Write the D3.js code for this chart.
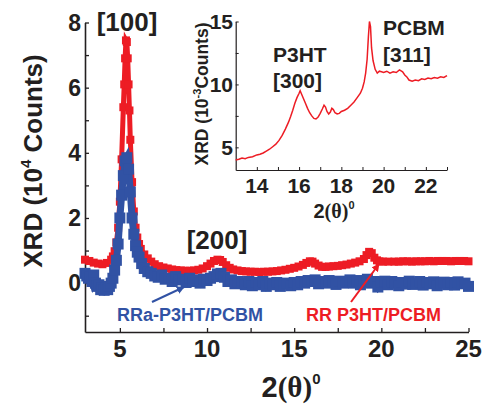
<!DOCTYPE html>
<html>
<head>
<meta charset="utf-8">
<script src="https://cdn.jsdelivr.net/npm/d3@7"></script>
<style>
  body { margin: 0; background: #fff; }
  svg text { font-family: "Liberation Sans", Arial, sans-serif; font-weight: bold; fill: #231f20; }
</style>
</head>
<body>
<svg id="chart" width="485" height="407"></svg>
<script>
// main plot, 2theta in degrees
var rrX = [3.0,3.25,3.5,3.75,4.0,4.25,4.5,4.6,4.7,4.8,4.9,5.0,5.1,5.2,5.25,5.3,5.35,5.4,5.45,5.5,5.55,5.6,5.7,5.8,5.9,6.0,6.1,6.2,6.4,6.6,6.8,7.0,7.25,7.5,7.75,8.0,8.25,8.5,8.75,9.0,9.25,9.5,9.75,10.0,10.2,10.4,10.6,10.75,10.9,11.1,11.3,11.5,11.75,12.0,12.25,12.5,12.75,13.0,13.25,13.5,13.75,14.0,14.25,14.5,14.75,15.0,15.25,15.5,15.7,15.9,16.05,16.2,16.4,16.6,16.8,17.0,17.25,17.5,17.75,18.0,18.25,18.5,18.75,19.0,19.15,19.3,19.45,19.6,19.75,19.9,20.1,20.4,20.75,21.0,21.25,21.5,21.75,22.0,22.25,22.5,22.75,23.0,23.25,23.5,23.75,24.0,24.25,24.5,24.75,25.0];
var rrY = [0.72,0.68,0.63,0.6,0.58,0.62,0.72,0.82,0.98,1.25,1.7,2.5,3.8,5.4,6.1,6.9,7.45,7.4,6.9,6.1,5.3,4.4,3.1,2.2,1.7,1.4,1.2,1.05,0.88,0.76,0.66,0.58,0.52,0.48,0.45,0.42,0.4,0.39,0.38,0.38,0.39,0.41,0.45,0.52,0.6,0.68,0.72,0.71,0.65,0.55,0.47,0.42,0.39,0.37,0.36,0.35,0.35,0.34,0.35,0.35,0.36,0.37,0.39,0.41,0.44,0.47,0.51,0.56,0.62,0.67,0.66,0.6,0.54,0.5,0.5,0.51,0.52,0.53,0.55,0.57,0.6,0.63,0.67,0.74,0.86,0.96,0.92,0.78,0.7,0.67,0.66,0.66,0.66,0.66,0.67,0.67,0.66,0.67,0.67,0.67,0.68,0.67,0.68,0.68,0.68,0.67,0.68,0.68,0.68,0.67];

var rraX = [3.0,3.1,3.2,3.3,3.4,3.5,3.6,3.7,3.8,3.9,4.0,4.1,4.2,4.3,4.4,4.5,4.6,4.7,4.8,4.9,5.0,5.1,5.2,5.3,5.4,5.5,5.6,5.7,5.8,5.9,6.0,6.1,6.25,6.4,6.6,6.8,7.0,7.2,7.4,7.6,7.8,8.0,8.2,8.4,8.6,8.8,9.0,9.2,9.4,9.6,9.8,10.0,10.2,10.4,10.6,10.8,11.0,11.2,11.4,11.6,11.8,12.0,12.2,12.4,12.6,12.8,13.0,13.2,13.4,13.6,13.8,14.0,14.2,14.4,14.6,14.8,15.0,15.2,15.4,15.6,15.8,16.0,16.2,16.4,16.6,16.8,17.0,17.2,17.4,17.6,17.8,18.0,18.2,18.4,18.6,18.8,19.0,19.2,19.4,19.6,19.8,20.0,20.2,20.4,20.6,20.8,21.0,21.2,21.4,21.6,21.8,22.0,22.2,22.4,22.6,22.8,23.0,23.2,23.4,23.6,23.8,24.0,24.2,24.4,24.6,24.8,25.0];
var rraY = [0.3,0.22,0.15,0.2,0.05,0.25,0.0,-0.1,-0.05,-0.2,-0.15,-0.22,-0.15,-0.2,-0.1,0.0,0.15,0.4,0.7,1.2,2.0,2.7,3.3,3.75,3.85,3.5,2.8,2.0,1.5,1.15,0.95,0.8,0.6,0.45,0.35,0.3,0.22,0.18,0.25,0.12,0.15,0.05,0.2,0.1,0.12,0.02,0.15,0.05,0.1,0.0,0.12,0.08,0.15,0.2,0.28,0.3,0.18,0.05,0.1,-0.02,0.05,0.0,-0.05,0.05,-0.08,0.02,-0.05,0.05,-0.1,0.0,-0.05,0.02,-0.1,-0.03,0.0,-0.08,0.02,-0.05,0.05,0.0,0.08,0.05,0.1,-0.02,0.05,0.0,0.08,0.02,-0.04,0.06,0.0,0.05,0.1,0.0,0.08,-0.05,0.05,0.12,0.0,0.05,-0.12,0.02,0.06,-0.05,0.05,0.0,-0.08,0.02,-0.03,0.06,-0.04,0.0,0.05,-0.06,0.02,-0.02,0.04,-0.08,0.0,0.03,-0.05,0.02,-0.06,0.04,-0.02,0.0,-0.1,0.02,-0.12];

// inset, RR P3HT/PCBM in 10^3 counts
var insetX = [13.0,13.15,13.3,13.45,13.6,13.8,14.0,14.15,14.3,14.45,14.6,14.75,14.9,15.05,15.2,15.35,15.5,15.6,15.7,15.8,15.9,16.0,16.05,16.1,16.2,16.3,16.4,16.5,16.6,16.7,16.8,16.9,17.0,17.1,17.18,17.25,17.32,17.4,17.48,17.55,17.62,17.7,17.8,17.9,18.0,18.15,18.3,18.45,18.6,18.75,18.9,19.0,19.08,19.15,19.22,19.28,19.33,19.38,19.43,19.5,19.6,19.7,19.8,19.9,20.0,20.15,20.3,20.45,20.6,20.75,20.9,21.0,21.1,21.2,21.35,21.5,21.65,21.8,21.95,22.1,22.25,22.4,22.55,22.7,22.85,23.0];
var insetY = [4.0,4.05,4.15,4.1,4.2,4.25,4.4,4.45,4.55,4.7,4.85,5.05,5.25,5.55,5.95,6.45,7.0,7.45,7.95,8.5,8.95,9.3,9.5,9.3,8.9,8.5,8.1,7.75,7.5,7.3,7.25,7.4,7.7,8.05,8.35,8.2,7.85,7.65,7.8,8.1,8.0,7.75,7.65,7.7,7.85,7.95,8.1,8.35,8.6,8.95,9.3,9.7,10.2,10.9,12.0,13.8,15.0,14.6,12.9,11.9,11.2,10.9,11.05,11.0,10.95,11.05,10.9,11.0,10.95,11.15,11.0,10.75,10.6,10.35,10.25,10.35,10.3,10.45,10.4,10.5,10.45,10.55,10.5,10.6,10.55,10.7];

var mainXTicks = [5, 10, 15, 20, 25];
var mainYTicks = [0, 2, 4, 6, 8];
var insetXTicks = [14, 16, 18, 20, 22];
var insetYTicks = [5, 10, 15];

var red = "#ed1c24", blue = "#3152a4", ink = "#231f20";

var svg = d3.select("#chart");

var x = d3.scaleLinear().domain([3, 25]).range([85, 468.5]);
var y = d3.scaleLinear().domain([-1.5, 8]).range([332, 22.5]);

// axes (ticks pointing inward)
var xAxis = d3.axisBottom(x).tickValues(d3.range(5, 25.1, 2.5)).tickSizeInner(-4).tickSizeOuter(0).tickFormat("");
var yAxis = d3.axisLeft(y).tickValues(d3.range(-1, 8.1, 1)).tickSizeInner(-4).tickSizeOuter(0).tickFormat("");

var gx = svg.append("g").attr("transform", "translate(0,332)").call(xAxis);
var gy = svg.append("g").attr("transform", "translate(85,0)").call(yAxis);
[gx, gy].forEach(function (g) {
  g.select(".domain").attr("stroke", ink).attr("stroke-width", 1.6);
  g.selectAll(".tick line").attr("stroke", ink).attr("stroke-width", 1.3);
});

svg.selectAll(".xlab").data(mainXTicks).enter().append("text")
  .attr("x", function (d) { return x(d); }).attr("y", 357)
  .attr("text-anchor", "middle").style("font-size", "24px").text(function (d) { return d; });
svg.selectAll(".ylab").data(mainYTicks).enter().append("text")
  .attr("x", 81).attr("y", function (d) { return y(d) + 8; })
  .attr("text-anchor", "end").style("font-size", "23px").text(function (d) { return d; });

// series
var line = d3.line().x(function (d) { return x(d[0]); }).y(function (d) { return y(d[1]); });
var rr = d3.zip(rrX, rrY), rra = d3.zip(rraX, rraY);

svg.append("path").datum(rr).attr("d", line).attr("fill", "none").attr("stroke", red).attr("stroke-width", 5);
svg.selectAll(".rr").data(rr).enter().append("rect")
  .attr("x", function (d) { return x(d[0]) - 4; }).attr("y", function (d) { return y(d[1]) - 4; })
  .attr("width", 8).attr("height", 8).attr("fill", red);

svg.append("path").datum(rra).attr("d", line).attr("fill", "none").attr("stroke", blue).attr("stroke-width", 7);
svg.selectAll(".rra").data(rra).enter().append("rect")
  .attr("x", function (d) { return x(d[0]) - 5.5; }).attr("y", function (d) { return y(d[1]) - 5.5; })
  .attr("width", 11).attr("height", 11).attr("fill", blue);

// annotations
svg.append("text").attr("x", 127).attr("y", 31).attr("text-anchor", "middle").style("font-size", "26px").text("[100]");
svg.append("text").attr("x", 217).attr("y", 249).attr("text-anchor", "middle").style("font-size", "26px").text("[200]");

svg.append("text").attr("x", 117).attr("y", 321).style("font-size", "18px").style("fill", blue).text("RRa-P3HT/PCBM");
svg.append("text").attr("x", 306).attr("y", 321).style("font-size", "18px").style("fill", red).text("RR P3HT/PCBM");

var defs = svg.append("defs");
[["ab", blue], ["ar", red]].forEach(function (m) {
  defs.append("marker").attr("id", m[0]).attr("viewBox", "0 0 10 10").attr("refX", 9).attr("refY", 5)
    .attr("markerWidth", 4).attr("markerHeight", 4).attr("orient", "auto")
    .append("path").attr("d", "M0,0L10,5L0,10z").attr("fill", m[1]);
});
svg.append("line").attr("x1", 152).attr("y1", 302).attr("x2", 184).attr("y2", 287)
  .attr("stroke", blue).attr("stroke-width", 2).attr("marker-end", "url(#ab)");
svg.append("line").attr("x1", 351).attr("y1", 302).attr("x2", 379).attr("y2", 264)
  .attr("stroke", red).attr("stroke-width", 2).attr("marker-end", "url(#ar)");

// axis titles
var xt = svg.append("text").attr("x", 291).attr("y", 397).attr("text-anchor", "middle").style("font-size", "29px");
xt.append("tspan").text("2");
xt.append("tspan").style("font-family", "'Liberation Serif', serif").text("(θ)");
xt.append("tspan").attr("dy", -13).style("font-size", "15px").text("0");

var yt = svg.append("text").attr("transform", "translate(42,161) rotate(-90)").attr("text-anchor", "middle").style("font-size", "26px");
yt.append("tspan").text("XRD (10");
yt.append("tspan").attr("dy", -11).style("font-size", "15px").text("4");
yt.append("tspan").attr("dy", 11).text(" Counts)");

// inset
var ix = d3.scaleLinear().domain([13, 23]).range([235.7, 447]);
var iy = d3.scaleLinear().domain([3.2, 15]).range([170, 21.5]);

var gix = svg.append("g").attr("transform", "translate(0,170)")
  .call(d3.axisBottom(ix).tickValues(d3.range(14, 23.1, 1)).tickSizeInner(-3).tickSizeOuter(0).tickFormat(""));
var giy = svg.append("g").attr("transform", "translate(235.7,0)")
  .call(d3.axisLeft(iy).tickValues([5, 7.5, 10, 12.5, 15]).tickSizeInner(-3).tickSizeOuter(0).tickFormat(""));
[gix, giy].forEach(function (g) {
  g.select(".domain").attr("stroke", ink).attr("stroke-width", 1.2);
  g.selectAll(".tick line").attr("stroke", ink).attr("stroke-width", 1);
});

svg.selectAll(".ixlab").data(insetXTicks).enter().append("text")
  .attr("x", function (d) { return ix(d); }).attr("y", 193)
  .attr("text-anchor", "middle").style("font-size", "21px").text(function (d) { return d; });
svg.selectAll(".iylab").data(insetYTicks).enter().append("text")
  .attr("x", 233).attr("y", function (d) { return iy(d) + 7.5; })
  .attr("text-anchor", "end").style("font-size", "21px").text(function (d) { return d; });

var iline = d3.line().x(function (d) { return ix(d[0]); }).y(function (d) { return iy(d[1]); });
svg.append("path").datum(d3.zip(insetX, insetY)).attr("d", iline)
  .attr("fill", "none").attr("stroke", red).attr("stroke-width", 1.5);

svg.append("text").attr("x", 273).attr("y", 61.5).style("font-size", "21px").text("P3HT");
svg.append("text").attr("x", 273).attr("y", 88).style("font-size", "21px").text("[300]");
svg.append("text").attr("x", 383).attr("y", 35).style("font-size", "21px").text("PCBM");
svg.append("text").attr("x", 383).attr("y", 62).style("font-size", "21px").text("[311]");

var ixt = svg.append("text").attr("x", 334).attr("y", 218).attr("text-anchor", "middle").style("font-size", "20px");
ixt.append("tspan").text("2");
ixt.append("tspan").style("font-family", "'Liberation Serif', serif").text("(θ)");
ixt.append("tspan").attr("dy", -9).style("font-size", "11px").text("0");

var iyt = svg.append("text").attr("transform", "translate(208,94) rotate(-90)").attr("text-anchor", "middle").style("font-size", "17.5px");
iyt.append("tspan").text("XRD (10");
iyt.append("tspan").attr("dy", -7).style("font-size", "11px").text("-3");
iyt.append("tspan").attr("dy", 7).text("Counts)");
</script>
</body>
</html>
